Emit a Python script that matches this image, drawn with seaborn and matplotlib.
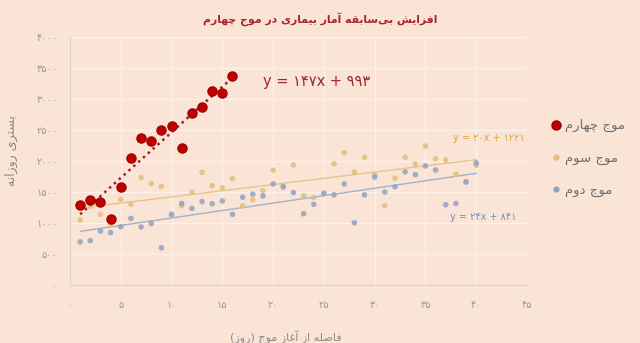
import numpy as np
import pandas as pd
import matplotlib
matplotlib.use("Agg")
import matplotlib.pyplot as plt
from matplotlib.lines import Line2D
from matplotlib.ticker import FuncFormatter, MultipleLocator
import seaborn as sns

# ---------------------------------------------------------------- data
title_text = "افزایش بی\u200cسابقه آمار بیماری در موج چهارم"
xlabel_text = "فاصله از آغاز موج (روز)"
ylabel_text = "بستری روزانه"
wave_names = ["موج چهارم", "موج سوم", "موج دوم"]

days_w4 = list(range(1, 17))
hosp_w4 = [1290, 1370, 1335, 1065, 1575, 2050, 2370, 2320, 2495, 2565,
           2205, 2780, 2875, 3130, 3095, 3370]

days_w3 = list(range(1, 41))
hosp_w3 = [1045, 1265, 1140, 970, 1380, 1305, 1730, 1635, 1590, 1120,
           1280, 1495, 1815, 1600, 1570, 1715, 1275, 1375, 1520, 1850,
           1575, 1935, 1440, 1410, 1475, 1955, 2135, 1825, 2060, 1780,
           1280, 1725, 2060, 1950, 2240, 2035, 2015, 1785, 1670, 1930]

days_w2 = list(range(1, 41))
hosp_w2 = [695, 715, 870, 845, 940, 1075, 935, 990, 600, 1140,
           1315, 1235, 1345, 1310, 1355, 1140, 1415, 1465, 1435, 1630,
           1590, 1490, 1150, 1300, 1480, 1455, 1630, 1005, 1455, 1740,
           1500, 1585, 1825, 1780, 1920, 1855, 1295, 1315, 1660, 1970]

# linear trend coefficients (slope, intercept) and their x-range
trend_w4 = (147, 993)
trend_w3 = (20, 1221)
trend_w2 = (24, 841)
range_w4 = [1, 16]
range_w3 = [1, 40]
range_w2 = [1, 40]

# ---------------------------------------------------------------- Persian text helpers
FA_DIGITS = str.maketrans("0123456789", "۰۱۲۳۴۵۶۷۸۹")

# isolated, final, initial, medial presentation forms
FORMS = {
    "ا": (0xFE8D, 0xFE8E, None, None),
    "آ": (0xFE81, 0xFE82, None, None),
    "ب": (0xFE8F, 0xFE90, 0xFE91, 0xFE92),
    "پ": (0xFB56, 0xFB57, 0xFB58, 0xFB59),
    "ت": (0xFE95, 0xFE96, 0xFE97, 0xFE98),
    "ث": (0xFE99, 0xFE9A, 0xFE9B, 0xFE9C),
    "ج": (0xFE9D, 0xFE9E, 0xFE9F, 0xFEA0),
    "چ": (0xFB7A, 0xFB7B, 0xFB7C, 0xFB7D),
    "ح": (0xFEA1, 0xFEA2, 0xFEA3, 0xFEA4),
    "خ": (0xFEA5, 0xFEA6, 0xFEA7, 0xFEA8),
    "د": (0xFEA9, 0xFEAA, None, None),
    "ذ": (0xFEAB, 0xFEAC, None, None),
    "ر": (0xFEAD, 0xFEAE, None, None),
    "ز": (0xFEAF, 0xFEB0, None, None),
    "ژ": (0xFB8A, 0xFB8B, None, None),
    "س": (0xFEB1, 0xFEB2, 0xFEB3, 0xFEB4),
    "ش": (0xFEB5, 0xFEB6, 0xFEB7, 0xFEB8),
    "ص": (0xFEB9, 0xFEBA, 0xFEBB, 0xFEBC),
    "ض": (0xFEBD, 0xFEBE, 0xFEBF, 0xFEC0),
    "ط": (0xFEC1, 0xFEC2, 0xFEC3, 0xFEC4),
    "ظ": (0xFEC5, 0xFEC6, 0xFEC7, 0xFEC8),
    "ع": (0xFEC9, 0xFECA, 0xFECB, 0xFECC),
    "غ": (0xFECD, 0xFECE, 0xFECF, 0xFED0),
    "ف": (0xFED1, 0xFED2, 0xFED3, 0xFED4),
    "ق": (0xFED5, 0xFED6, 0xFED7, 0xFED8),
    "ک": (0xFB8E, 0xFB8F, 0xFB90, 0xFB91),
    "گ": (0xFB92, 0xFB93, 0xFB94, 0xFB95),
    "ل": (0xFEDD, 0xFEDE, 0xFEDF, 0xFEE0),
    "م": (0xFEE1, 0xFEE2, 0xFEE3, 0xFEE4),
    "ن": (0xFEE5, 0xFEE6, 0xFEE7, 0xFEE8),
    "و": (0xFEED, 0xFEEE, None, None),
    "ه": (0xFEE9, 0xFEEA, 0xFEEB, 0xFEEC),
    "ی": (0xFBFC, 0xFBFD, 0xFBFE, 0xFBFF),
}


def rtl(text):
    """Join Persian letters into contextual forms and lay them out right-to-left."""
    out = []
    n = len(text)
    for i, c in enumerate(text):
        if c == "\u200c":
            continue
        if c not in FORMS:
            out.append(c)
            continue
        prev = text[i - 1] if i > 0 else None
        nxt = text[i + 1] if i < n - 1 else None
        iso, fin, ini, med = FORMS[c]
        join_prev = prev in FORMS and FORMS[prev][2] is not None
        join_next = nxt in FORMS and ini is not None
        if join_prev and join_next:
            g = med
        elif join_prev:
            g = fin
        elif join_next:
            g = ini
        else:
            g = iso
        out.append(chr(g))
    vis = "".join(reversed(out))
    return vis.translate(str.maketrans("()", ")("))


# ---------------------------------------------------------------- style
BG = "#FAE4D6"
RED = "#C00000"
GOLD = "#E3BE7C"
BLUE = "#8FA2C2"
GRAY = "#9A9A9A"

sns.set_theme(style="whitegrid")
plt.rcParams["font.family"] = ["DejaVu Sans"]

fig = plt.figure(figsize=(6.4, 3.43), dpi=100, facecolor=BG)
ax = fig.add_axes([70 / 640, 1 - 285 / 343, (527 - 70) / 640, (285 - 37) / 343])
ax.set_facecolor(BG)

# trend lines
for (m, b), xr, col, ls, lw in [
    (trend_w3, range_w3, "#E6C48A", "-", 1.0),
    (trend_w2, range_w2, "#9FB2CC", "-", 1.0),
    (trend_w4, range_w4, "#A0202A", (0, (1, 1.6)), 1.8),
]:
    xs = np.array(xr, dtype=float)
    sns.lineplot(x=xs, y=m * xs + b, color=col, linestyle=ls, linewidth=lw,
                 legend=False, ax=ax, zorder=2)

# scatter points
sns.scatterplot(x=days_w3, y=hosp_w3, color=GOLD, s=16, edgecolor="none",
                alpha=0.85, ax=ax, zorder=3)
sns.scatterplot(x=days_w2, y=hosp_w2, color=BLUE, s=16, edgecolor="none",
                alpha=0.85, ax=ax, zorder=3)
sns.scatterplot(x=days_w4, y=hosp_w4, color=RED, s=45, edgecolor="#9A0000",
                linewidth=0.8, ax=ax, zorder=4)

# equations
ax.text(24.3, 3290, "y = " + "147x + 993".translate(FA_DIGITS), color="#A3262C",
        fontsize=10.5, ha="center", va="center")
ax.text(37.7, 2370, "y = " + "20x + 1221".translate(FA_DIGITS), color="#D9A743",
        fontsize=7, ha="left", va="center")
ax.text(37.4, 1100, "y = " + "24x + 841".translate(FA_DIGITS), color="#6C93C4",
        fontsize=7, ha="left", va="center")

# axes
ax.set_xlim(0, 45)
ax.set_ylim(0, 4000)
ax.xaxis.set_major_locator(MultipleLocator(5))
ax.yaxis.set_major_locator(MultipleLocator(500))
fmt = FuncFormatter(lambda v, p: str(int(round(v))).translate(FA_DIGITS))
ax.xaxis.set_major_formatter(fmt)
ax.yaxis.set_major_formatter(fmt)
ax.tick_params(axis="both", length=0, labelsize=7, labelcolor=GRAY)
ax.tick_params(axis="x", pad=11)
ax.tick_params(axis="y", pad=9)
ax.grid(True, color="#FDF1EA", linewidth=0.9)
for side, sp in ax.spines.items():
    sp.set_visible(side in ("left", "bottom"))
    sp.set_color("#E3D2C8")
    sp.set_linewidth(0.8)

ax.set_xlabel(rtl(xlabel_text), fontsize=8, color="#8A8A8A")
ax.xaxis.set_label_coords((286 - 70) / 457, -(330 - 285) / 248, transform=ax.transAxes)
ax.set_ylabel(rtl(ylabel_text), fontsize=9, color="#8A8A8A")
ax.yaxis.set_label_coords(-(70 - 18) / 457, (285 - 150) / 248, transform=ax.transAxes)
fig.suptitle(rtl(title_text), x=0.5, y=0.965, fontsize=7.8,
             fontweight="bold", color="#A8262C")

handles = [
    Line2D([], [], marker="o", linestyle="none", color=RED, markeredgecolor="#9A0000",
           markersize=6.5),
    Line2D([], [], marker="o", linestyle="none", color=GOLD, markersize=3.5),
    Line2D([], [], marker="o", linestyle="none", color=BLUE, markersize=3.5),
]
leg = fig.legend(handles, [rtl(w) for w in wave_names], loc="upper left",
                 bbox_to_anchor=(545 / 640, 1 - 114 / 343), frameon=False,
                 fontsize=9.5, labelspacing=1.45, handletextpad=0.3,
                 handlelength=0.8, borderaxespad=0)
for t in leg.get_texts():
    t.set_color("#6E6E6E")

fig.savefig("out.png", dpi=100, facecolor=BG)
